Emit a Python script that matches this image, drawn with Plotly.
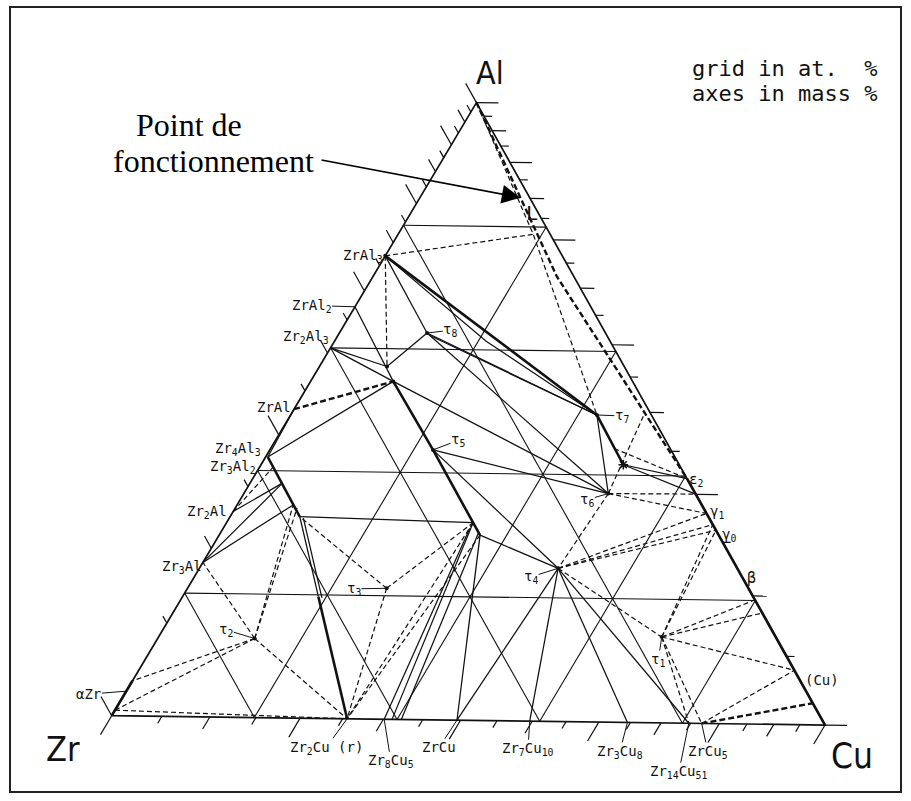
import math
import plotly.graph_objects as go

# ----------------------------------------------------------------------------
# DATA - compositions in at.% given as (Al, Cu); Zr = 100 - Al - Cu
# ----------------------------------------------------------------------------
VERTICES = {"Al": (100.0, 0.0), "Zr": (0.0, 0.0), "Cu": (0.0, 100.0)}

# points on the Zr-Al edge (at.% Al)
ZR_AL_EDGE = {"ZrAl3": 75.0, "ZrAl2": 66.7, "Zr2Al3": 60.0, "ZrAl": 50.0,
              "Zr4Al3": 42.9, "Zr3Al2": 40.0, "Zr2Al": 33.3, "Zr3Al": 25.0,
              "aZr_lo": 0.9, "aZr_lbl": 4.0, "aZr_hi": 5.7}
# points on the Zr-Cu edge (at.% Cu)
ZR_CU_EDGE = {"Zr2Cu": 33.0, "Zr8Cu5": 38.2, "B39": 39.3, "B41": 40.6,
              "ZrCu": 48.4, "Zr7Cu10": 58.6, "Zr3Cu8": 72.3,
              "Zr14Cu51": 80.9, "ZrCu5": 82.7}
# points on the Cu-Al edge (at.% Al)
CU_AL_EDGE = {"e2": 39.6, "Em": 37.1, "g1": 34.0, "g0b": 32.2, "g0": 31.3,
              "b1": 20.1, "b2": 18.0, "Cu1": 8.8, "Cu2": 3.5}
# ternary points (Al, Cu)
TERNARY_PTS = {
    "t1": (13.9, 70.0), "t2": (12.8, 13.5), "t3": (21.2, 27.7), "t4": (24.8, 49.9),
    "t5": (43.7, 22.7), "t6": (37.0, 50.7), "t7": (49.7, 42.6), "t8": (62.6, 12.2),
    "t8b": (62.2, 12.8), "D1": (61.4, 21.1),
    "Q1": (57.1, 9.4), "Q2": (54.7, 11.5), "Q3a": (32.0, 34.3), "Q3b": (31.1, 34.3),
    "Q3": (30.0, 36.3), "zz": (30.3, 35.9),
    "S0": (44.3, 47.8), "S1": (41.7, 50.4),
    "K0": (78.8, 18.8), "K1": (72.0, 25.6), "LB1": (50.1, 49.1), "P_op": (84.7, 14.0),
    "T0": (42.2, 0.3), "T1": (40.6, 1.9), "T2": (38.0, 4.5), "T3": (34.5, 7.8),
    "T3b": (34.0, 8.6), "T4": (32.6, 9.7), "T4b": (32.4, 10.3), "T5": (19.7, 18.9),
    "T5b": (19.5, 19.5),
}

GRID_LEVELS = [20, 40, 60, 80]            # grid in at.%
MASS_TICKS = list(range(0, 101, 5))       # axes in mass %
ATOMIC_MASS = {"Al": 26.98, "Cu": 63.55, "Zr": 91.22}

THIN_SOLID = [
    ("Zr2Al3", "Q1"), ("Zr2Al3", "Q2"), ("Q1", "t8"), ("ZrAl3", "t8"), ("ZrAl2", "Q2"),
    ("Q2", "t6"), ("t8", "t6"), ("t5", "t6"), ("t5", "t4"), ("Q3", "t4"),
    ("T0", "Q2"), ("T0", "ZrAl"), ("Zr3Al", "T2"), ("Zr3Al", "T3"), ("Zr2Al", "T2"),
    ("T4", "Q3a"), ("Q3b", "Zr8Cu5"), ("Q3a", "B39"), ("Q3", "ZrCu"), ("zz", "B41"),
    ("t4", "ZrCu"), ("t4", "Zr7Cu10"), ("t4", "Zr3Cu8"), ("t4", "Zr14Cu51"),
    ("t7", "t6"), ("S1", "e2"), ("S1", "Em"), ("t8", "t7"), ("t8b", "t7"),
    ("T4", "T5"), ("T4b", "T5b"), ("ZrAl3", "D1", "t7"),
]
THICK_SOLID = [
    ("ZrAl3", "t7"), ("Q2", "t5", "Q3a", "Q3"), ("T0", "T4"), ("T5", "Zr2Cu"),
    ("t7", "S1"), ("e2", "Cu"), ("Zr", "aZr_hi"),
]
THIN_DASHED = [
    ("ZrAl3", "Q1"), ("ZrAl3", "K0"), ("Al", "K0", "t7"), ("t6", "LB1"), ("t6", "Em"),
    ("t6", "g1"), ("t6", "t4"), ("S0", "e2"), ("t4", "g1"), ("t4", "g0"), ("t4", "g0b"),
    ("t4", "t1"), ("t1", "g0"), ("t1", "g0b"), ("t1", "b1"), ("t1", "b2"), ("t1", "Cu1"),
    ("t1", "Zr14Cu51"), ("t1", "ZrCu5"), ("ZrCu5", "Cu1"), ("t3", "T4"), ("t3", "Q3a"),
    ("t3", "Zr2Cu"), ("Q3a", "Zr2Cu"), ("Q3", "Zr2Cu"), ("t2", "Zr3Al"), ("t2", "T3"),
    ("t2", "T3b"), ("t2", "Zr2Cu"), ("t2", "aZr_hi"), ("t2", "aZr_lo"),
    ("aZr_lo", "Zr2Cu"), ("Zr2Al", "T1"),
]
THICK_DASHED = [("Al", "K1", "e2"), ("ZrAl", "Q2"), ("ZrCu5", "Cu2")]

DOT_POINTS = ["t1", "t2", "t3", "t4", "t5", "t6", "t7", "t8", "ZrAl3", "Q1", "Q2"]
STAR_POINTS = ["S1"]

# labels: (text, anchor point, dx px, dy px)  -- no leader line
EDGE_LABELS_LEFT = [
    ("ZrAl<sub>3</sub>", "ZrAl3", -1.6, 0.0),
    ("Zr<sub>2</sub>Al<sub>3</sub>", "Zr2Al3", -0.3, -11.0),
    ("ZrAl", "ZrAl", -1.7, -2.0),
    ("Zr<sub>4</sub>Al<sub>3</sub>", "Zr4Al3", -5.7, -4.0),
    ("Zr<sub>3</sub>Al<sub>2</sub>", "Zr3Al2", -0.7, -3.0),
    ("Zr<sub>2</sub>Al", "Zr2Al", -4.7, 0.0),
    ("Zr<sub>3</sub>Al", "Zr3Al", 0.0, 4.5),
]
EDGE_LABELS_RIGHT = [
    ("ε<sub>2</sub>", "e2", 1.0, 1.5, 14),
    ("γ<sub>1</sub>", "g1", 2.5, -1.5, 14),
    ("γ<sub>0</sub>", "g0", 5.0, 5.0, 14),
    ("β", "b1", -8.7, -21.5, 15),
    ("(Cu)", "Cu1", 9.7, 10.0, 14),
    ("L", "P_op", 4.5, 15.5, 20),
]
# labels with a leader line: (text, point, ax, ay)
LEADER_LABELS = [
    ("ZrAl<sub>2</sub>", "ZrAl2", -43.4, -1.2),
    ("αZr", "aZr_lbl", -37.5, 3.0),
    ("Zr<sub>2</sub>Cu (r)", "Zr2Cu", -21.0, 29.0),
    ("Zr<sub>8</sub>Cu<sub>5</sub>", "Zr8Cu5", 6.7, 42.0),
    ("ZrCu", "ZrCu", -17.7, 27.0),
    ("Zr<sub>7</sub>Cu<sub>10</sub>", "Zr7Cu10", -1.7, 28.0),
    ("Zr<sub>3</sub>Cu<sub>8</sub>", "Zr3Cu8", -7.7, 29.5),
    ("ZrCu<sub>5</sub>", "ZrCu5", 6.3, 28.5),
    ("Zr<sub>14</sub>Cu<sub>51</sub>", "Zr14Cu51", -10.0, 49.0),
    ("τ<sub>8</sub>", "t8", 23.3, -2.8),
    ("τ<sub>7</sub>", "t7", 25.0, 1.0),
    ("τ<sub>5</sub>", "t5", 25.0, -9.5),
    ("τ<sub>6</sub>", "t6", -21.0, 6.0),
    ("τ<sub>4</sub>", "t4", -27.0, 8.5),
    ("τ<sub>3</sub>", "t3", -32.7, 0.5),
    ("τ<sub>2</sub>", "t2", -28.5, -8.5),
    ("τ<sub>1</sub>", "t1", -3.4, 23.0),
]

# ----------------------------------------------------------------------------
# geometry of the page
# ----------------------------------------------------------------------------
W, H = 911, 801
SIDE_PX = 713.4              # triangle side in px
X0_PX, Y0_PX = 111.7, 715.7  # Zr corner on the page (px from left / top)
ROT = math.radians(0.75)     # the scanned diagram is slightly rotated
SQ3 = math.sqrt(3) / 2

PT = {}
PT.update(VERTICES)
PT.update({k: (v, 0.0) for k, v in ZR_AL_EDGE.items()})
PT.update({k: (0.0, v) for k, v in ZR_CU_EDGE.items()})
PT.update({k: (v, 100.0 - v) for k, v in CU_AL_EDGE.items()})
PT.update(TERNARY_PTS)


def xy(al, cu):
    a, c = al / 100.0, cu / 100.0
    x, y = c + a / 2.0, a * SQ3
    return (x * math.cos(ROT) + y * math.sin(ROT),
            -x * math.sin(ROT) + y * math.cos(ROT))


def seg_trace(polys, width, dash="solid", color="#111"):
    xs, ys = [], []
    for poly in polys:
        for comp in poly:
            if isinstance(comp, str):
                comp = PT[comp]
            x, y = xy(*comp)
            xs.append(x)
            ys.append(y)
        xs.append(None)
        ys.append(None)
    return go.Scatter(x=xs, y=ys, mode="lines", hoverinfo="skip", showlegend=False,
                      line=dict(color=color, width=width, dash=dash))


fig = go.Figure()

# grid (at.%)
grid = []
for lv in GRID_LEVELS:
    grid.append(((lv, 0.0), (lv, 100.0 - lv)))            # Al constant
    grid.append(((0.0, lv), (100.0 - lv, lv)))            # Cu constant
    grid.append(((100.0 - lv, 0.0), (0.0, 100.0 - lv)))   # Zr constant
fig.add_trace(seg_trace(grid, 1.1))

# outline
fig.add_trace(seg_trace([("Zr", "Cu", "Al", "Zr")], 1.7))


# ticks (mass %)
def at_frac(w, m_el, m_other):
    if w <= 0:
        return 0.0
    if w >= 100:
        return 100.0
    n1 = w / m_el
    n2 = (100.0 - w) / m_other
    return 100.0 * n1 / (n1 + n2)


def tick_len(w):
    px = 22 if w % 20 == 0 else (14 if w % 10 == 0 else 8)
    return px / SIDE_PX * 100.0


ticks = []
for w in MASS_TICKS:
    l = tick_len(w)
    a = at_frac(w, ATOMIC_MASS["Al"], ATOMIC_MASS["Zr"])      # Zr-Al side
    ticks.append(((a, 0.0), (a + l, -l)))
    a = at_frac(w, ATOMIC_MASS["Al"], ATOMIC_MASS["Cu"])      # Cu-Al side
    ticks.append(((a, 100.0 - a), (a, 100.0 - a + l)))
    c = at_frac(w, ATOMIC_MASS["Cu"], ATOMIC_MASS["Zr"])      # Zr-Cu side
    ticks.append(((0.0, c), (-l, c)))
fig.add_trace(seg_trace(ticks, 1.2))

# phase diagram lines
fig.add_trace(seg_trace(THIN_SOLID, 1.25))
fig.add_trace(seg_trace(THICK_SOLID, 2.6))
fig.add_trace(seg_trace(THIN_DASHED, 1.2, dash="5px,3px"))
fig.add_trace(seg_trace(THICK_DASHED, 2.4, dash="6px,3px"))

dx_, dy_ = zip(*[xy(*PT[p]) for p in DOT_POINTS])
fig.add_trace(go.Scatter(x=dx_, y=dy_, mode="markers", hoverinfo="skip", showlegend=False,
                         marker=dict(color="#111", size=4)))
sx_, sy_ = zip(*[xy(*PT[p]) for p in STAR_POINTS])
fig.add_trace(go.Scatter(x=sx_, y=sy_, mode="markers", hoverinfo="skip", showlegend=False,
                         marker=dict(color="#111", size=8, symbol="asterisk-open",
                                     line=dict(width=1.5, color="#111"))))

MONO = "DejaVu Sans Mono, monospace"
LBL_FONT = dict(family=MONO, size=14, color="#111")
ann = []
for txt, p, dx, dy in EDGE_LABELS_LEFT:
    x, y = xy(*PT[p])
    ann.append(dict(x=x, y=y, text=txt, showarrow=False, xanchor="right", yanchor="middle",
                    xshift=dx, yshift=-dy, font=LBL_FONT, borderpad=0))
for txt, p, dx, dy, fs in EDGE_LABELS_RIGHT:
    x, y = xy(*PT[p])
    ann.append(dict(x=x, y=y, text=txt, showarrow=False, xanchor="left", yanchor="middle",
                    xshift=dx, yshift=-dy, font=dict(family=MONO, size=fs, color="#111"),
                    borderpad=0))
for txt, p, ax, ay in LEADER_LABELS:
    x, y = xy(*PT[p])
    ann.append(dict(x=x, y=y, text=txt, showarrow=True, arrowhead=0, arrowwidth=1,
                    arrowcolor="#111", ax=ax, ay=ay, standoff=0, font=LBL_FONT, borderpad=0))

# vertex labels
BIG = "DejaVu Sans Condensed, Liberation Sans Narrow, Roboto Condensed, DejaVu Sans"
for txt, px_, py_, fs in [("Al", 490, 73, 32), ("Zr", 62.5, 748.5, 34), ("Cu", 851.5, 756, 35)]:
    ann.append(dict(xref="paper", yref="paper", x=px_ / W, y=1 - py_ / H, text=txt,
                    showarrow=False, xanchor="center", yanchor="middle",
                    font=dict(family=BIG, size=fs, color="#111")))

# notes
NOTE = dict(family=MONO, size=22, color="#111")
ann.append(dict(xref="paper", yref="paper", x=690 / W, y=1 - 68.5 / H, text="grid in at.  %",
                showarrow=False, xanchor="left", yanchor="middle", font=NOTE))
ann.append(dict(xref="paper", yref="paper", x=690 / W, y=1 - 93 / H, text="axes in mass %",
                showarrow=False, xanchor="left", yanchor="middle", font=NOTE))

SERIF = dict(family="Liberation Serif, Times New Roman, serif", size=32, color="#000")
ann.append(dict(xref="paper", yref="paper", x=189 / W, y=1 - 124.5 / H, text="Point de",
                showarrow=False, xanchor="center", yanchor="middle", font=SERIF))
ann.append(dict(xref="paper", yref="paper", x=213.7 / W, y=1 - 161 / H, text="fonctionnement",
                showarrow=False, xanchor="center", yanchor="middle", font=SERIF))
# arrow to the operating point
x, y = xy(*PT["P_op"])
ann.append(dict(x=x, y=y, text="", showarrow=True, arrowhead=2, arrowsize=2.2,
                arrowwidth=1.7, arrowcolor="#000", ax=-200.5, ay=-38, standoff=0))

fig.update_layout(
    width=W, height=H, autosize=False,
    margin=dict(l=0, r=0, t=0, b=0, pad=0),
    paper_bgcolor="white", plot_bgcolor="white",
    showlegend=False, hovermode=False,
    xaxis=dict(range=[-X0_PX / SIDE_PX, (W - X0_PX) / SIDE_PX], visible=False, fixedrange=True),
    yaxis=dict(range=[-(H - Y0_PX) / SIDE_PX, Y0_PX / SIDE_PX], visible=False, fixedrange=True),
    annotations=ann,
    shapes=[dict(type="rect", xref="paper", yref="paper", x0=10 / W, x1=901 / W,
                 y0=1 - 792 / H, y1=1 - 7 / H, line=dict(color="#222", width=2))],
)

fig.write_html("out.html", config={"displayModeBar": False},
               post_script="document.body.style.margin='0px';document.body.style.overflow='hidden';")
